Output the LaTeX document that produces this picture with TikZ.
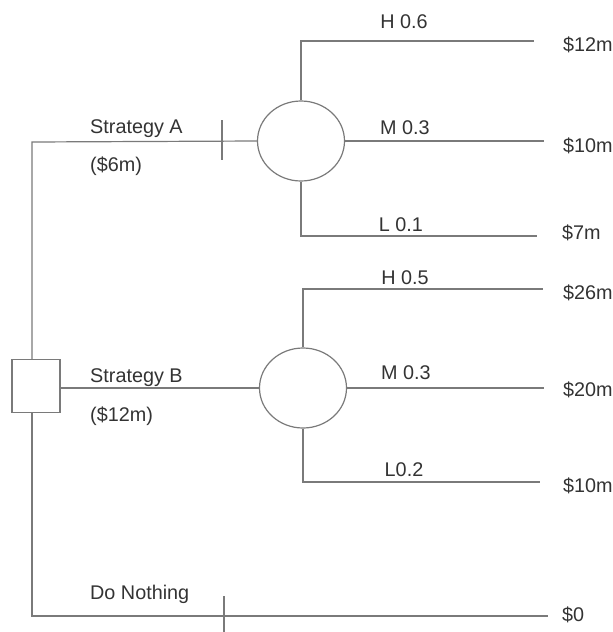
\documentclass[tikz,border=0pt]{standalone}
\usepackage{fontspec}
\setmainfont{Liberation Sans}
\usetikzlibrary{shapes.geometric}
\begin{document}
\begin{tikzpicture}[x=1pt,y=-1pt,
  ln/.style={draw=black!52, line width=1.2pt},
  dbox/.style={ln, rectangle, minimum width=48pt, minimum height=53pt, inner sep=0},
  chance/.style={ln, ellipse, minimum width=87pt, minimum height=80pt, inner sep=0},
  lbl/.style={font=\fontsize{19.8}{22}\selectfont, text=black!80, inner sep=0},
  pay/.style={lbl, anchor=west}]
\useasboundingbox (0,0) rectangle (613,632);
% decision and chance nodes
\node[dbox] (dec) at (36,386) {};
\node[chance] (cA) at (301,141) {};
\node[chance] (cB) at (303,388) {};
% coordinates
\coordinate (aTurn) at (32,142);
\coordinate (dTurn) at (32,616);
\coordinate (dEnd) at (548,616);
\coordinate (aH) at (534,41);
\coordinate (aM) at (544,141);
\coordinate (aL) at (537,236);
\coordinate (bH) at (543,289);
\coordinate (bM) at (544,388);
\coordinate (bL) at (540,482);
\coordinate (tA1) at (222,120);
\coordinate (tA2) at (222,160);
\coordinate (tD1) at (224,596);
\coordinate (tD2) at (224,632);
% connectors
\draw[ln] (dec.north -| aTurn) -- (aTurn) -- (cA.west);
\draw[ln] (dec.south -| dTurn) -- (dTurn) -- (dEnd);
\draw[ln] (dec.east |- cB.west) -- (cB.west);
\draw[ln] (tA1) -- (tA2);
\draw[ln] (tD1) -- (tD2);
\draw[ln] (cA.north) |- (aH);
\draw[ln] (cA.east) -- (aM);
\draw[ln] (cA.south) |- (aL);
\draw[ln] (cB.north) |- (bH);
\draw[ln] (cB.east) -- (bM);
\draw[ln] (cB.south) |- (bL);
% labels
\node[lbl, anchor=west] (sA) at (90,129) {Strategy A};
\node[lbl, anchor=west] (cAcost) at (90,166) {(\$6m)};
\node[lbl, anchor=west] (sB) at (90,378) {Strategy B};
\node[lbl, anchor=west] (cBcost) at (90,416) {(\$12m)};
\node[lbl, anchor=west] (sD) at (90,594) {Do Nothing};
\node[lbl] (lAH) at (404,22) {H 0.6};
\node[lbl] (lAM) at (405,128) {M 0.3};
\node[lbl] (lAL) at (401,225) {L 0.1};
\node[lbl] (lBH) at (405,278) {H 0.5};
\node[lbl] (lBM) at (406,373) {M 0.3};
\node[lbl] (lBL) at (404,470) {L0.2};
% payoffs
\node[pay] (pAH) at (563,45) {\$12m};
\node[pay] (pAM) at (563,146) {\$10m};
\node[pay] (pAL) at (562,233) {\$7m};
\node[pay] (pBH) at (563,293) {\$26m};
\node[pay] (pBM) at (563,390) {\$20m};
\node[pay] (pBL) at (563,486) {\$10m};
\node[pay] (pD) at (562,615) {\$0};
\end{tikzpicture}
\end{document}
